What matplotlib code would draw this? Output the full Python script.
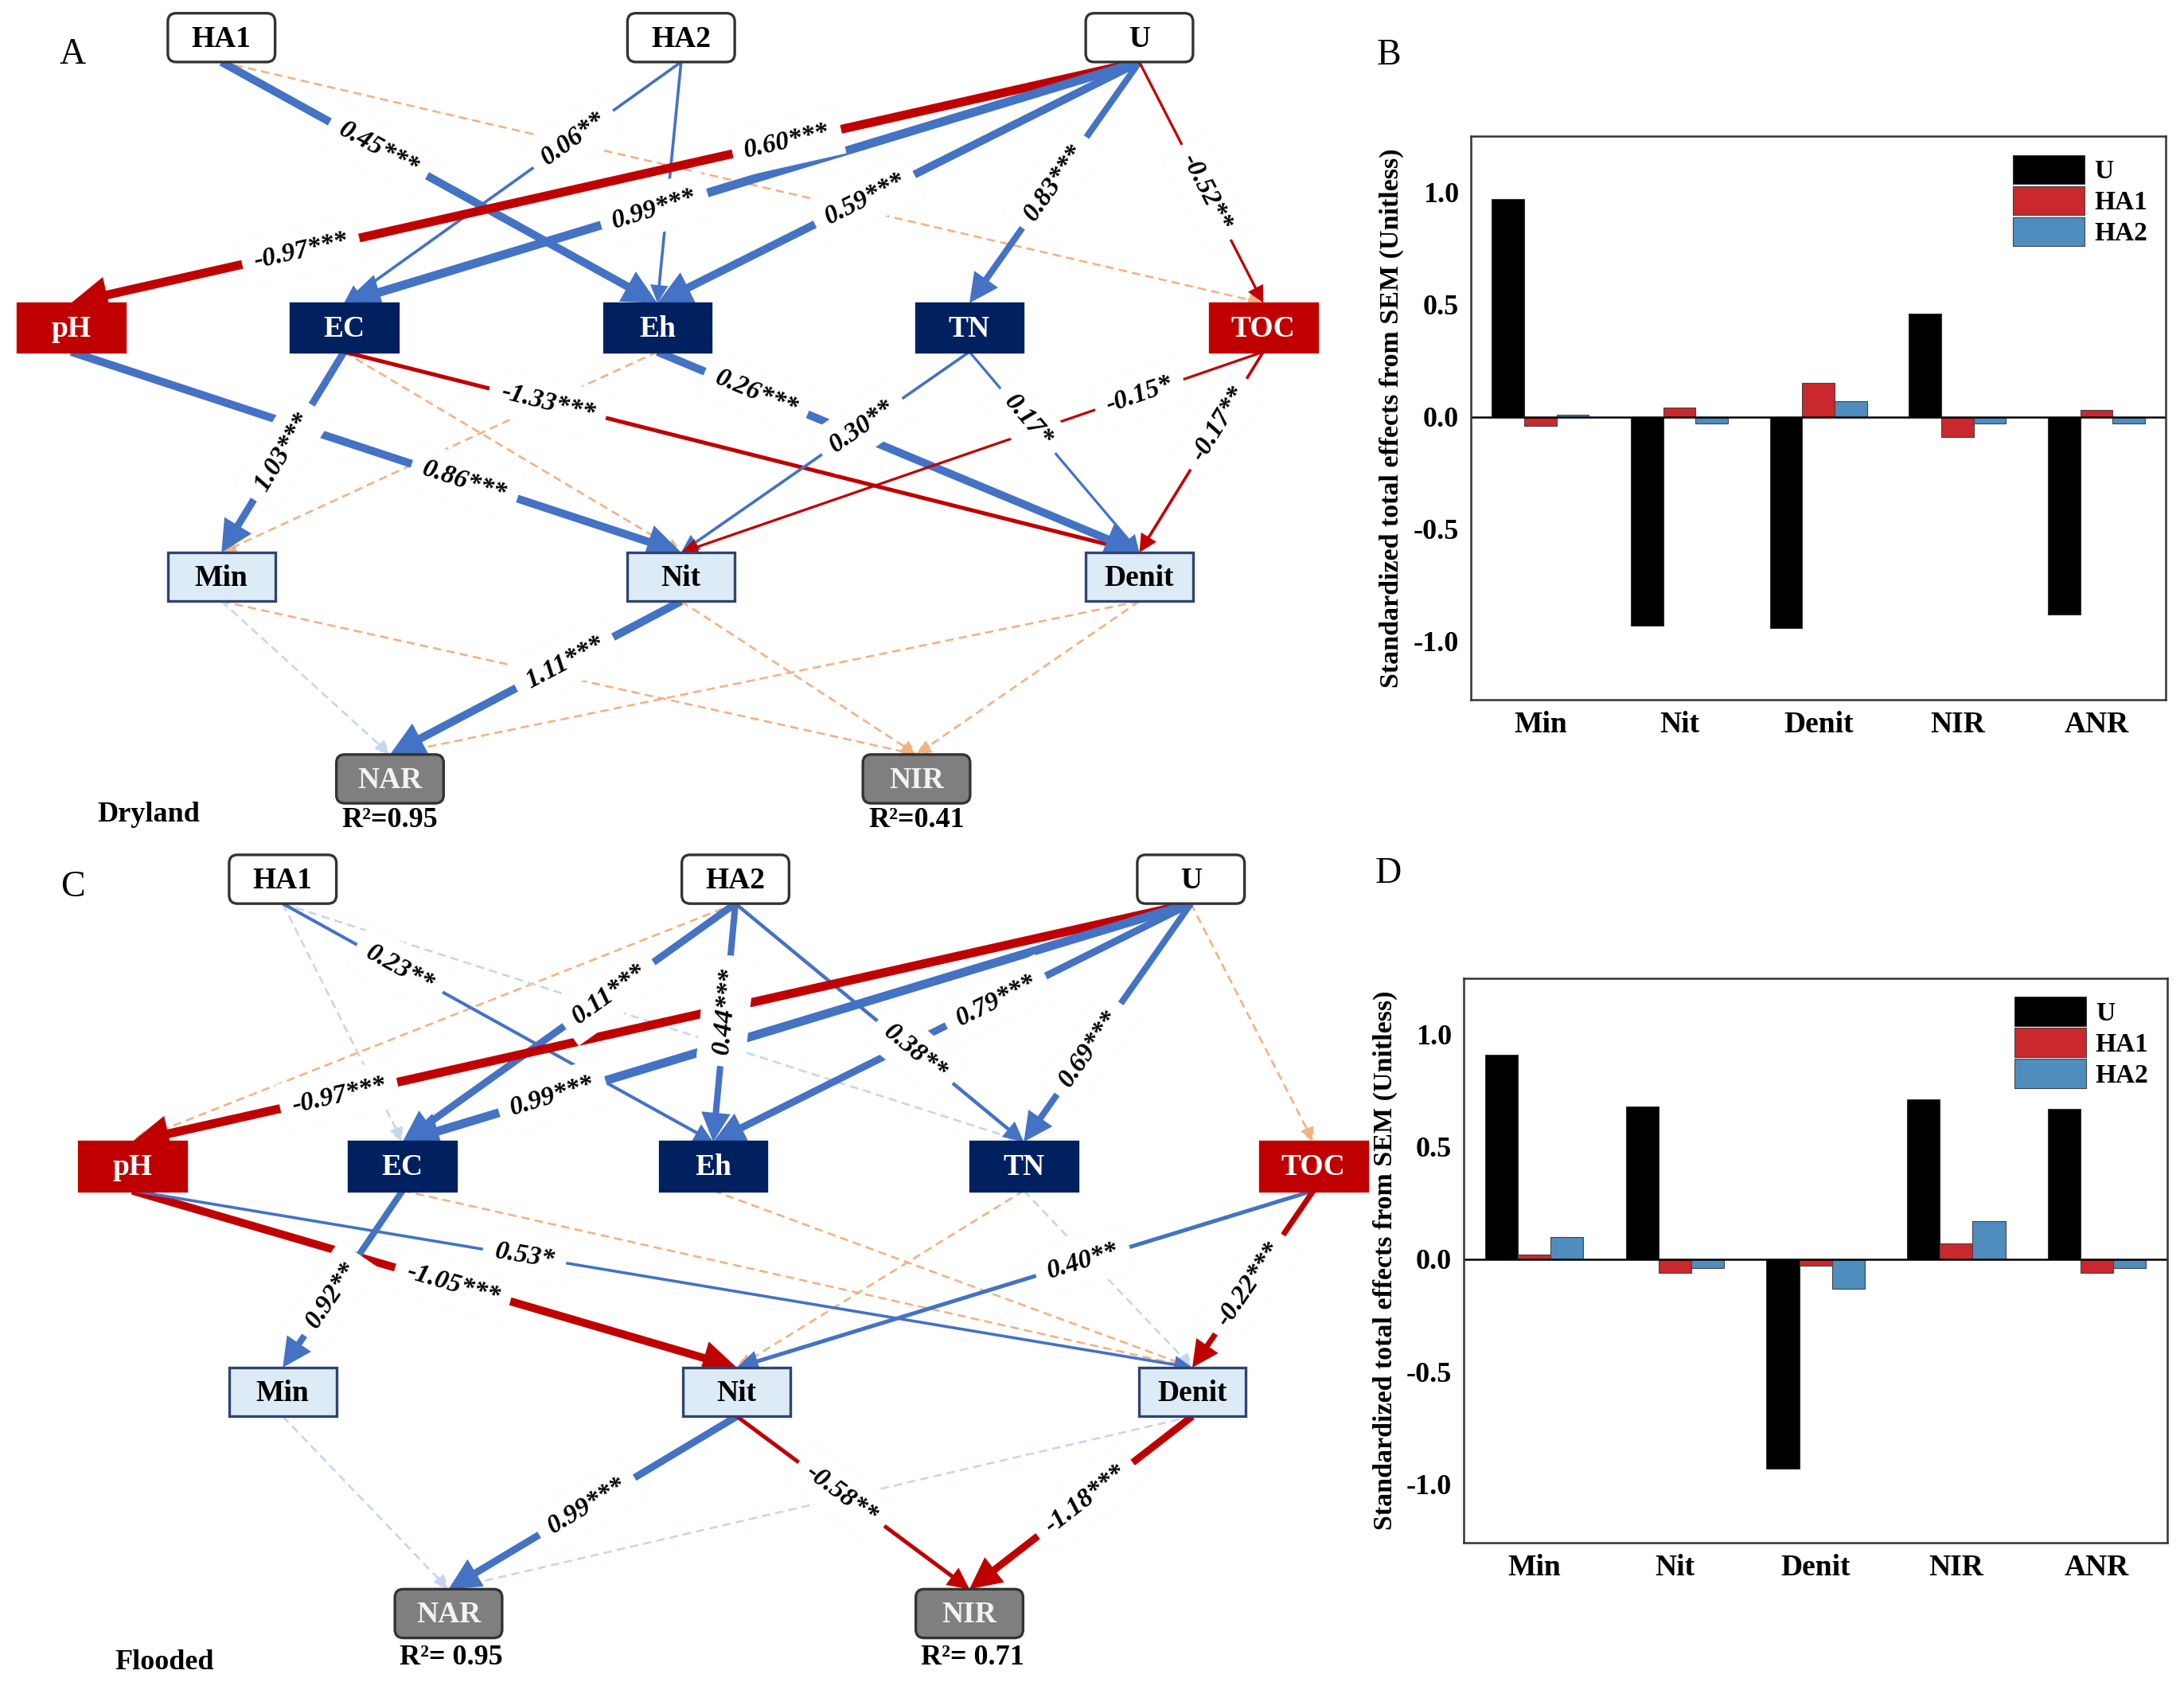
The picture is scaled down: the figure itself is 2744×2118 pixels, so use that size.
import numpy as np
import matplotlib.pyplot as plt
from matplotlib.patches import FancyBboxPatch, FancyArrowPatch

plt.rcParams['font.family'] = ['Liberation Serif', 'DejaVu Serif']

# ---------------- bar chart data: standardized total effects ----------------
processes = ['Min', 'Nit', 'Denit', 'NIR', 'ANR']
dry_U = [0.97, -0.93, -0.94, 0.46, -0.88]
dry_HA1 = [-0.04, 0.04, 0.15, -0.09, 0.03]
dry_HA2 = [0.01, -0.03, 0.07, -0.03, -0.03]
flood_U = [0.91, 0.68, -0.93, 0.71, 0.67]
flood_HA1 = [0.02, -0.06, -0.03, 0.07, -0.06]
flood_HA2 = [0.10, -0.04, -0.13, 0.17, -0.04]
yticks = [-1.0, -0.5, 0.0, 0.5, 1.0]

# ---------------- SEM paths ----------------
# Dryland (A): significant paths
dry_from = ['HA1', 'HA2', 'HA2', 'U', 'U', 'U', 'U', 'U', 'pH', 'EC', 'EC', 'Eh',
            'TN', 'TN', 'TOC', 'TOC', 'Nit']
dry_to = ['Eh', 'EC', 'Eh', 'pH', 'EC', 'Eh', 'TN', 'TOC', 'Nit', 'Min', 'Denit', 'Denit',
          'Nit', 'Denit', 'Nit', 'Denit', 'NAR']
dry_coef = [0.45, 0.06, None, -0.97, 0.99, 0.59, 0.83, -0.52, 0.86, 1.03, -1.33, 0.26,
            0.30, 0.17, -0.15, -0.17, 1.11]
dry_stars = ['***', '**', '', '***', '***', '***', '***', '**', '***', '***', '***', '***',
             '**', '*', '*', '**', '***']
# second label printed on the U -> pH arrow
dry_extra_coef = [0.60]
dry_extra_stars = ['***']
# Dryland non-significant paths (sign of the estimate)
dry_ns_from = ['HA1', 'Eh', 'EC', 'Min', 'Nit', 'Denit', 'Denit', 'Min']
dry_ns_to = ['TOC', 'Min', 'Nit', 'NIR', 'NIR', 'NAR', 'NIR', 'NAR']
dry_ns_sign = [-1, -1, -1, -1, -1, -1, -1, 1]
dry_r2 = [0.95, 0.41]

# Flooded (C): significant paths
flood_from = ['HA1', 'HA2', 'HA2', 'HA2', 'U', 'U', 'U', 'U', 'pH', 'pH', 'EC', 'TOC',
              'TOC', 'Nit', 'Nit', 'Denit']
flood_to = ['Eh', 'EC', 'Eh', 'TN', 'pH', 'EC', 'Eh', 'TN', 'Nit', 'Denit', 'Min', 'Nit',
            'Denit', 'NAR', 'NIR', 'NIR']
flood_coef = [0.23, 0.11, 0.44, 0.38, -0.97, 0.99, 0.79, 0.69, -1.05, 0.53, 0.92, 0.40,
              -0.22, 0.99, -0.58, -1.18]
flood_stars = ['**', '***', '***', '**', '***', '***', '***', '***', '***', '*', '**', '**',
               '***', '***', '**', '***']
flood_ns_from = ['HA2', 'U', 'EC', 'Eh', 'TN', 'HA1', 'HA1', 'TN', 'Min', 'Denit']
flood_ns_to = ['pH', 'TOC', 'Denit', 'Denit', 'Nit', 'EC', 'TN', 'Denit', 'NAR', 'NAR']
flood_ns_sign = [-1, -1, -1, -1, -1, 1, 1, 1, 1, 1]
flood_r2 = [0.95, 0.71]
outcomes = ['NAR', 'NIR']

# ---------------- layout / style ----------------
node_kind = {'HA1': 'top', 'HA2': 'top', 'U': 'top', 'pH': 'red', 'TOC': 'red',
             'EC': 'navy', 'Eh': 'navy', 'TN': 'navy', 'Min': 'light', 'Nit': 'light',
             'Denit': 'light', 'NAR': 'out', 'NIR': 'out'}
dry_pos = {'HA1': (159, 27), 'HA2': (489, 27), 'U': (818, 27), 'pH': (51, 235),
           'EC': (247, 235), 'Eh': (472, 235), 'TN': (696, 235), 'TOC': (907, 235),
           'Min': (159, 414), 'Nit': (489, 414), 'Denit': (818, 414),
           'NAR': (280, 559), 'NIR': (658, 559)}
flood_pos = {'HA1': (203, 631), 'HA2': (528, 631), 'U': (855, 631), 'pH': (95, 837),
             'EC': (289, 837), 'Eh': (512, 837), 'TN': (735, 837), 'TOC': (943, 837),
             'Min': (203, 999), 'Nit': (529, 999), 'Denit': (856, 999),
             'NAR': (322, 1158), 'NIR': (696, 1158)}
dry_label_t = [0.36, 0.32, None, 0.785, 0.61, 0.57, 0.50, 0.54, 0.645, 0.50, 0.256, 0.205,
               0.372, 0.344, 0.213, 0.36, 0.40]
dry_extra_t = [0.33]
dry_width = [5, 1.8, 1.8, 5.5, 5.5, 5, 4, 1.6, 5, 4.5, 2.5, 5, 1.8, 1.6, 1.6, 1.8, 5]
flood_label_t = [0.272, 0.38, 0.45, 0.623, 0.805, 0.81, 0.408, 0.61, 0.53, 0.37, 0.59,
                 0.40, 0.53, 0.52, 0.45, 0.48]
flood_width = [2, 4.5, 4, 2.2, 5.5, 5.5, 4.5, 4, 5, 1.8, 4, 2.5, 3.5, 4.5, 2.5, 4.5]

BW, BH = 77, 35
PX = 1.45  # reference pixel -> points (slightly heavier strokes)
BLUE, RED = '#4472C4', '#C00000'
ORANGE, PALE = '#F4B183', '#C6D6EE'

fig = plt.figure(figsize=(27.44, 21.18), dpi=100)
ov = fig.add_axes([0, 0, 1, 1])
ov.set_xlim(0, 1568)
ov.set_ylim(1210, 0)
ov.axis('off')


def ends(pos, a, b):
    xa, ya = pos[a]
    xb, yb = pos[b]
    return np.array([xa, ya + BH / 2]), np.array([xb, yb - BH / 2])


def arrow(p0, p1, color, w, dashed=False, z=2):
    lw = w * PX
    ms = 10 + 2.8 * w
    ls = (0, (4, 2.5)) if dashed else '-'
    ar = FancyArrowPatch(p0, p1, arrowstyle='-|>,head_length=0.8,head_width=0.4',
                         mutation_scale=ms, lw=lw, color=color, linestyle=ls,
                         shrinkA=0, shrinkB=0, zorder=z, capstyle='butt',
                         joinstyle='miter')
    ov.add_patch(ar)


def coef_label(p0, p1, t, text):
    p = p0 + t * (p1 - p0)
    ang = np.degrees(np.arctan2(-(p1[1] - p0[1]), p1[0] - p0[0]))
    if ang > 90:
        ang -= 180
    if ang < -90:
        ang += 180
    ov.text(p[0], p[1], text, rotation=ang, rotation_mode='anchor', ha='center',
            va='center', fontsize=24, fontweight='bold', fontstyle='italic', zorder=4,
            bbox=dict(boxstyle='square,pad=0.45', fc='white', ec='#fafafa', lw=0.5))


def draw_sem(pos, p_from, p_to, p_coef, p_stars, p_t, p_w, ns_from, ns_to, ns_sign):
    for a, b, s in zip(ns_from, ns_to, ns_sign):
        p0, p1 = ends(pos, a, b)
        arrow(p0, p1, ORANGE if s < 0 else PALE, 1.3, dashed=True, z=1)
    for a, b, c, st, t, w in zip(p_from, p_to, p_coef, p_stars, p_t, p_w):
        p0, p1 = ends(pos, a, b)
        col = RED if (c is not None and c < 0) else BLUE
        arrow(p0, p1, col, w, z=2)
        if c is not None:
            coef_label(p0, p1, t, f'{c:.2f}{st}')
    for name, (x, y) in pos.items():
        kind = node_kind[name]
        if kind == 'top':
            fc, ec, tc, bs = 'white', '#333333', 'black', 'round,pad=0,rounding_size=6'
        elif kind == 'red':
            fc, ec, tc, bs = RED, RED, 'white', 'square,pad=0'
        elif kind == 'navy':
            fc, ec, tc, bs = '#002060', '#002060', 'white', 'square,pad=0'
        elif kind == 'light':
            fc, ec, tc, bs = '#DDEBF7', '#2F4470', 'black', 'square,pad=0'
        else:
            fc, ec, tc, bs = '#7F7F7F', '#333333', '#F2F2F2', 'round,pad=0,rounding_size=6'
        box = FancyBboxPatch((x - BW / 2, y - BH / 2), BW, BH, boxstyle=bs, fc=fc, ec=ec,
                             lw=2.4, zorder=5)
        ov.add_patch(box)
        ov.text(x, y + 1, name, ha='center', va='center', fontsize=27, fontweight='bold',
                color=tc, zorder=6)


# panel A
draw_sem(dry_pos, dry_from, dry_to, dry_coef, dry_stars, dry_label_t, dry_width,
         dry_ns_from, dry_ns_to, dry_ns_sign)
p0, p1 = ends(dry_pos, 'U', 'pH')
for c, st, t in zip(dry_extra_coef, dry_extra_stars, dry_extra_t):
    coef_label(p0, p1, t, f'{c:.2f}{st}')
for name, r2 in zip(outcomes, dry_r2):
    x, y = dry_pos[name]
    ov.text(x, y + 30, f'R\u00b2={r2:.2f}', ha='center', va='center', fontsize=26,
            fontweight='bold')
ov.text(107, 585, 'Dryland', ha='center', va='center', fontsize=26, fontweight='bold')

# panel C
draw_sem(flood_pos, flood_from, flood_to, flood_coef, flood_stars, flood_label_t,
         flood_width, flood_ns_from, flood_ns_to, flood_ns_sign)
for name, r2 in zip(outcomes, flood_r2):
    x, y = flood_pos[name]
    ov.text(x + 2, y + 32, f'R\u00b2= {r2:.2f}', ha='center', va='center', fontsize=26,
            fontweight='bold')
ov.text(118, 1193, 'Flooded', ha='center', va='center', fontsize=26, fontweight='bold')

for lab, (x, y) in zip(['A', 'B', 'C', 'D'], [(52, 39), (997, 40), (52, 637), (997, 627)]):
    ov.text(x, y, lab, ha='center', va='center', fontsize=33)


# ---------------- bar panels ----------------
def draw_bars(ax, u, ha1, ha2):
    x = np.arange(len(processes))
    bw = 0.233
    ax.bar(x - bw, u, bw, color='black', edgecolor='#333333', lw=0.8, label='U')
    ax.bar(x, ha1, bw, color='#C9282D', edgecolor='#444444', lw=0.8, label='HA1')
    ax.bar(x + bw, ha2, bw, color='#4F8DBF', edgecolor='#444444', lw=0.8, label='HA2')
    ax.axhline(0, color='black', lw=1.8)
    ax.set_xlim(-0.5, 4.5)
    ax.set_ylim(-1.26, 1.25)
    ax.set_xticks(x)
    ax.set_xticklabels(processes, fontsize=27, fontweight='bold')
    ax.set_yticks(yticks)
    ax.set_yticklabels([f'{v:.1f}' for v in yticks], fontsize=26, fontweight='bold')
    ax.tick_params(length=0)
    ax.tick_params(axis='y', pad=11)
    ax.tick_params(axis='x', pad=10)
    ax.set_ylabel('Standardized total effects from SEM (Unitless)', fontsize=24.5,
                  fontweight='bold', labelpad=8)
    for sp in ax.spines.values():
        sp.set_linewidth(1.8)
        sp.set_color('#333333')
    ax.legend(loc='upper right', frameon=False, prop={'weight': 'bold', 'size': 24},
              handlelength=2.7, handleheight=1.3, labelspacing=0.08, handletextpad=0.35,
              borderaxespad=0.3)


axB = fig.add_axes([0.6735, 0.5851, 0.3182, 0.334])
draw_bars(axB, dry_U, dry_HA1, dry_HA2)
axD = fig.add_axes([0.6703, 0.0851, 0.322, 0.3347])
draw_bars(axD, flood_U, flood_HA1, flood_HA2)

fig.savefig('out.png', dpi=100)
